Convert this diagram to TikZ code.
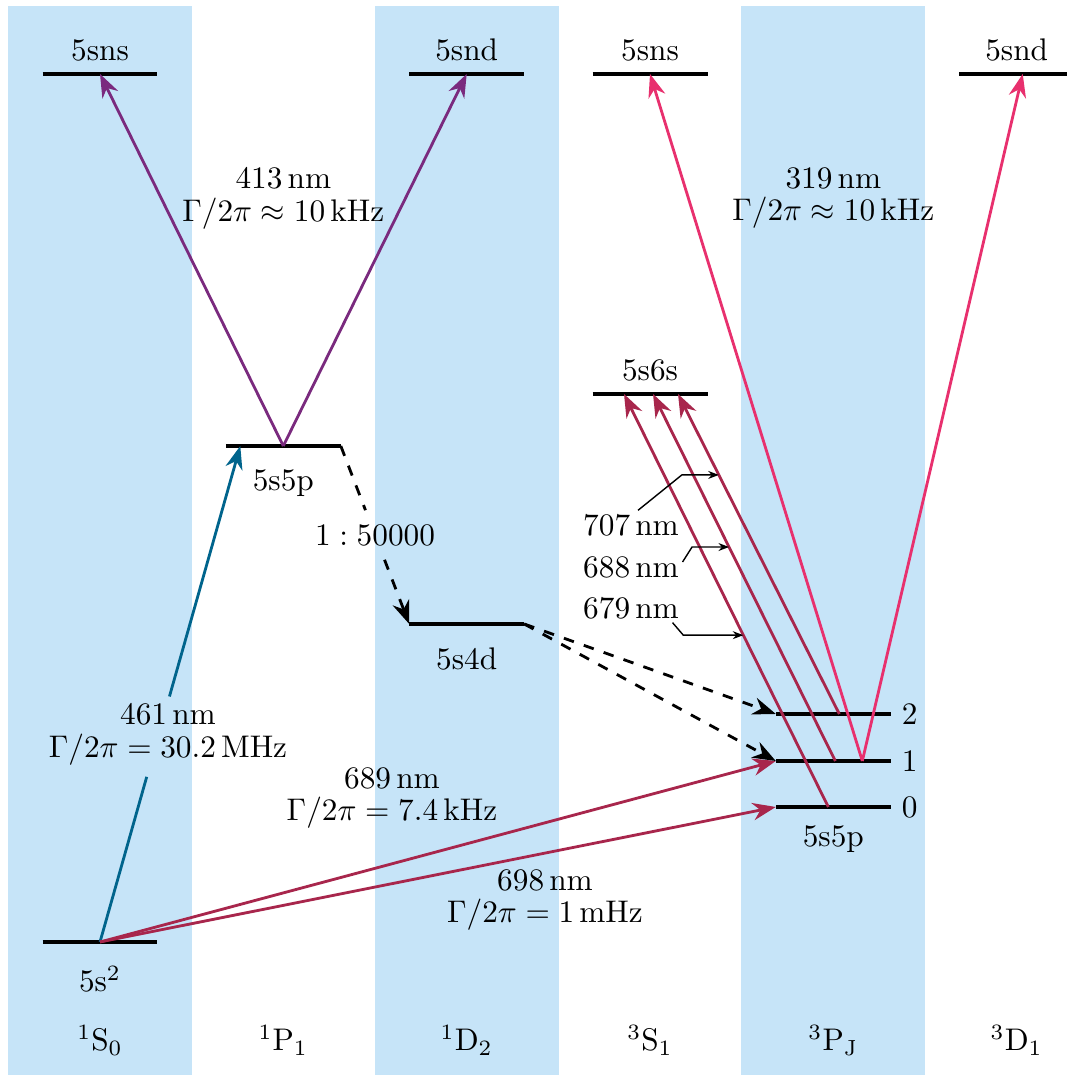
\documentclass[tikz,border=0pt]{standalone}
\usepackage{xcolor}
\usepackage{tikz}
\usetikzlibrary{positioning,arrows.meta}
\definecolor{srBand}{HTML}{C6E4F8}
\definecolor{srBlue}{HTML}{00648C}
\definecolor{srPurple}{HTML}{7A2A7E}
\definecolor{srPink}{HTML}{E8306E}
\definecolor{srRed}{HTML}{A8264C}

\begin{document}
\begin{tikzpicture}[every node/.style={scale=0.89},
    level/.style={minimum width=1.15cm/0.89, minimum height=0pt, inner sep=0pt, outer sep=0pt},
    lvl/.style={line width=1pt},
    trans/.style={thick, -{Stealth}},
    decay/.style={thick, dashed, -{Stealth}},
    note/.style={align=center, inner sep=3pt},
    pointer/.style={thin, -{Stealth[length=3pt]}}]
  \useasboundingbox (0,0) rectangle (10.66,10.75);
  % singlet / triplet columns
  \foreach \c in {1,4.667,8.333}
    \fill[srBand] (\c-0.92,0) rectangle (\c+0.92,10.69);

  % levels
  \node[level] (g)   at (1,1.33)      {};
  \node[level] (p1)  at (2.833,6.29)  {};
  \node[level] (d4)  at (4.667,4.51)  {};
  \node[level] (ns1) at (1,10.01)     {};
  \node[level] (nd3) at (4.667,10.01) {};
  \node[level] (ns4) at (6.5,10.01)   {};
  \node[level] (nd6) at (10.167,10.01) {};
  \node[level] (s6)  at (6.5,6.81)    {};
  \node[level] (t2)  at (8.333,3.61)  {};
  \node[level] (t1)  at (8.333,3.14)  {};
  \node[level] (t0)  at (8.333,2.68)  {};
  \foreach \n in {g,p1,d4,ns1,nd3,ns4,nd6,s6,t0,t1,t2}
    \draw[lvl] (\n.west) -- (\n.east);

  \node[below=0.13cm of g]  (gname)   {5s$^2$};
  \node[below=0.13cm of p1] (p1name)  {5s5p};
  \node[below=0.13cm of d4] (d4name)  {5s4d};
  \node[below=0.08cm of t0] (tname)   {5s5p};
  \node[above=0.02cm of ns1] (ns1name) {5sns};
  \node[above=0.02cm of nd3] (nd3name) {5snd};
  \node[above=0.02cm of ns4] (ns4name) {5sns};
  \node[above=0.02cm of nd6] (nd6name) {5snd};
  \node[above=0.02cm of s6]  (s6name)  {5s6s};
  \node[right=0pt of t2] (j2) {2};
  \node[right=0pt of t1] (j1) {1};
  \node[right=0pt of t0] (j0) {0};

  % term symbols
  \foreach \x/\t [count=\i] in {1/{$^1\mathrm{S}_0$}, 2.833/{$^1\mathrm{P}_1$},
      4.667/{$^1\mathrm{D}_2$}, 6.5/{$^3\mathrm{S}_1$},
      8.333/{$^3\mathrm{P}_\mathrm{J}$}, 10.167/{$^3\mathrm{D}_1$}}
    \node (term\i) at (\x,0.35) {\t};

  % 461 nm
  \coordinate (b461) at ([xshift=-0.43cm]p1.center);
  \path (g.center) -- coordinate[pos=0.333] (a461) coordinate[pos=0.495] (c461) (b461);
  \draw[thick, srBlue] (g.center) -- (a461);
  \draw[trans, srBlue] (c461) -- (b461);
  \node[note] (l461) at (1.68,3.41) {461\,nm\\[-1.5pt]$\Gamma/2\pi = 30.2\,\mathrm{MHz}$};

  % 413 nm
  \draw[trans, srPurple] (p1.center) -- (ns1.center);
  \draw[trans, srPurple] (p1.center) -- (nd3.center);
  \node[note] (l413) at (2.833,8.77) {413\,nm\\[-1.5pt]$\Gamma/2\pi \approx 10\,\mathrm{kHz}$};

  % 319 nm
  \draw[trans, srPink] ([xshift=0.29cm]t1.center) -- (ns4.center);
  \draw[trans, srPink] ([xshift=0.29cm]t1.center) -- ([xshift=0.06cm]nd6.center);
  \node[note] (l319) at (8.333,8.77) {319\,nm\\[-1.5pt]$\Gamma/2\pi \approx 10\,\mathrm{kHz}$};

  % intercombination lines
  \draw[trans, srRed] (g.center) -- (t1.west);
  \draw[trans, srRed] (g.center) -- (t0.west);
  \node[note] (l689) at (3.92,2.77) {689\,nm\\[-1.5pt]$\Gamma/2\pi = 7.4\,\mathrm{kHz}$};
  \node[note] (l698) at (5.45,1.75) {698\,nm\\[-1.5pt]$\Gamma/2\pi = 1\,\mathrm{mHz}$};

  % repumpers
  \draw[trans, srRed] ([xshift=-0.05cm]t0.center) -- coordinate[pos=0.416] (c679) ([xshift=-0.26cm]s6.center);
  \draw[trans, srRed] ([xshift=0.02cm]t1.center) -- coordinate[pos=0.583] (c688) ([xshift=0.03cm]s6.center);
  \draw[trans, srRed] ([xshift=0.06cm]t2.center) -- coordinate[pos=0.747] (c707) ([xshift=0.28cm]s6.center);
  \node[inner sep=1pt] (l707) at (6.31,5.50) {707\,nm};
  \node[inner sep=1pt] (l688) at (6.31,5.08) {688\,nm};
  \node[inner sep=1pt] (l679) at (6.31,4.67) {679\,nm};
  \draw[pointer] ([xshift=0.07cm]l707.north) -- ([xshift=-0.37cm]c707) -- (c707);
  \draw[pointer] ([yshift=0.05cm]l688.east) -- ([xshift=-0.37cm]c688) -- (c688);
  \draw[pointer] ([xshift=-0.1cm]l679.south east) -- ([xshift=-0.6cm]c679) -- (c679);

  % decay via 5s4d
  \path (p1.east) -- node[inner sep=4.5pt] (lratio) {$1:50000$} (d4.west);
  \draw[thick, dashed] (p1.east) -- (lratio);
  \draw[decay] (lratio) -- (d4.west);
  \draw[decay] (d4.east) -- (t2.west);
  \draw[decay] (d4.east) -- (t1.west);
\end{tikzpicture}
\end{document}
